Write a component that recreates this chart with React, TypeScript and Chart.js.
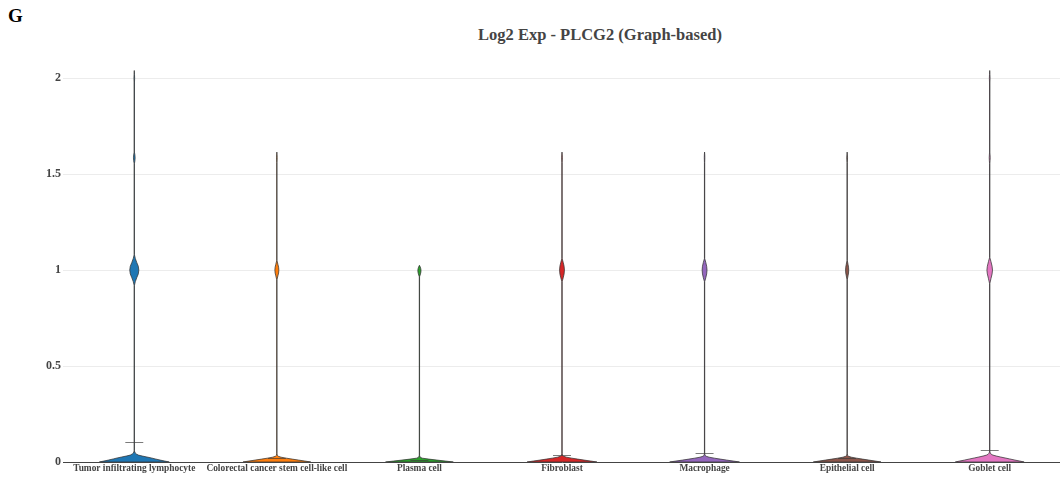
import React, { useEffect, useRef } from "react";
import { Chart, registerables } from "chart.js";

Chart.register(...registerables);

const categories = [
  "Tumor infiltrating lymphocyte",
  "Colorectal cancer stem cell-like cell",
  "Plasma cell",
  "Fibroblast",
  "Macrophage",
  "Epithelial cell",
  "Goblet cell",
];

const colors = ["#1f77b4", "#ff7f0e", "#2ca02c", "#d62728", "#9467bd", "#8c564b", "#e377c2"];

const yTicks = [0, 0.5, 1, 1.5, 2];

// density profiles: [log2 expression, relative density]
const tilProfile: [number, number][] = [
  [0, 1], [0.005, 0.87], [0.01, 0.74], [0.016, 0.6], [0.021, 0.49], [0.026, 0.36], [0.031, 0.23],
  [0.036, 0.115], [0.042, 0.057], [0.047, 0.028], [0.052, 0.012], [0.06, 0.004],
  [0.92, 0.004], [0.94, 0.03], [0.96, 0.07], [0.98, 0.115], [1.0, 0.13], [1.02, 0.115], [1.04, 0.07],
  [1.06, 0.03], [1.08, 0.004], [1.555, 0.004], [1.57, 0.018], [1.585, 0.024], [1.6, 0.018], [1.615, 0.004],
  [1.98, 0.006], [2.0, 0.01], [2.02, 0.006], [2.04, 0],
];
const crcProfile: [number, number][] = [
  [0, 0.97], [0.005, 0.8], [0.01, 0.62], [0.015, 0.44], [0.02, 0.27], [0.025, 0.12], [0.03, 0.04],
  [0.035, 0.012], [0.045, 0.004],
  [0.95, 0.004], [0.97, 0.03], [0.985, 0.05], [1.0, 0.057], [1.015, 0.05], [1.03, 0.03], [1.05, 0.004],
  [1.56, 0.004], [1.585, 0.01], [1.6, 0.006], [1.615, 0],
];
const plasmaProfile: [number, number][] = [
  [0, 0.97], [0.005, 0.74], [0.01, 0.5], [0.015, 0.27], [0.02, 0.08], [0.025, 0.02], [0.035, 0.004],
  [0.965, 0.004], [0.98, 0.03], [0.99, 0.042], [1.0, 0.045], [1.01, 0.035], [1.02, 0.015], [1.025, 0],
];
const fibroProfile: [number, number][] = [
  [0, 1], [0.005, 0.82], [0.01, 0.63], [0.015, 0.45], [0.02, 0.28], [0.025, 0.13], [0.03, 0.045],
  [0.035, 0.012], [0.045, 0.004],
  [0.94, 0.004], [0.96, 0.035], [0.98, 0.06], [1.0, 0.07], [1.02, 0.06], [1.04, 0.035], [1.06, 0.004],
  [1.56, 0.004], [1.585, 0.01], [1.6, 0.006], [1.615, 0],
];
const macroProfile: [number, number][] = [
  [0, 1], [0.005, 0.82], [0.01, 0.63], [0.015, 0.45], [0.02, 0.28], [0.025, 0.13], [0.03, 0.045],
  [0.035, 0.012], [0.045, 0.004],
  [0.94, 0.004], [0.96, 0.035], [0.98, 0.06], [1.0, 0.07], [1.02, 0.06], [1.04, 0.035], [1.06, 0.004],
  [1.56, 0.004], [1.585, 0.008], [1.6, 0.006], [1.615, 0],
];
const epiProfile: [number, number][] = [
  [0, 0.97], [0.005, 0.8], [0.01, 0.62], [0.015, 0.44], [0.02, 0.27], [0.025, 0.12], [0.03, 0.04],
  [0.035, 0.012], [0.045, 0.004],
  [0.95, 0.004], [0.97, 0.025], [0.985, 0.04], [1.0, 0.045], [1.015, 0.04], [1.03, 0.025], [1.05, 0.004],
  [1.56, 0.004], [1.585, 0.012], [1.6, 0.006], [1.615, 0],
];
const gobletProfile: [number, number][] = [
  [0, 0.985], [0.005, 0.86], [0.01, 0.72], [0.016, 0.57], [0.021, 0.44], [0.026, 0.31], [0.031, 0.19],
  [0.036, 0.09], [0.041, 0.04], [0.046, 0.018], [0.052, 0.008], [0.06, 0.004],
  [0.93, 0.004], [0.955, 0.035], [0.98, 0.068], [1.0, 0.08], [1.02, 0.068], [1.045, 0.035], [1.065, 0.004],
  [1.555, 0.004], [1.57, 0.01], [1.585, 0.014], [1.6, 0.01], [1.615, 0.004],
  [1.98, 0.006], [2.0, 0.01], [2.02, 0.006], [2.04, 0],
];

const profiles = [tilProfile, crcProfile, plasmaProfile, fibroProfile, macroProfile, epiProfile, gobletProfile];

const means = [0.104, 0.02, 0.012, 0.035, 0.045, 0.022, 0.065];

const HALF_WIDTH = 0.245; // category units at density 1
const MEAN_HALF = 0.063;

const violinPlugin = {
  id: "violins",
  beforeDatasetsDraw(chart: any) {
    const { ctx, chartArea, scales } = chart;
    const x = scales.x;
    const y = scales.y;
    const unit = x.getPixelForValue(1) - x.getPixelForValue(0);
    const half = unit * HALF_WIDTH;
    ctx.save();
    ctx.beginPath();
    ctx.rect(chartArea.left, chartArea.top - 20, chartArea.right - chartArea.left, chartArea.bottom - chartArea.top + 20);
    ctx.clip();
    profiles.forEach((prof, i) => {
      const cx = x.getPixelForValue(i);
      ctx.beginPath();
      prof.forEach(([v, d], k) => {
        const px = cx + d * half;
        const py = y.getPixelForValue(v);
        if (k === 0) ctx.moveTo(px, py);
        else ctx.lineTo(px, py);
      });
      for (let k = prof.length - 1; k >= 0; k--) {
        const [v, d] = prof[k];
        ctx.lineTo(cx - d * half, y.getPixelForValue(v));
      }
      ctx.closePath();
      ctx.fillStyle = colors[i];
      ctx.fill();
      ctx.lineWidth = 0.75;
      ctx.strokeStyle = "#333";
      ctx.lineJoin = "round";
      ctx.stroke();

      const my = Math.round(y.getPixelForValue(means[i])) + 0.5;
      ctx.beginPath();
      ctx.moveTo(cx - MEAN_HALF * unit, my);
      ctx.lineTo(cx + MEAN_HALF * unit, my);
      ctx.lineWidth = 0.8;
      ctx.strokeStyle = "rgba(60,60,60,0.85)";
      ctx.stroke();
    });
    ctx.restore();
  },
};

export default function App() {
  const ref = useRef<HTMLCanvasElement | null>(null);

  useEffect(() => {
    if (!ref.current) return;
    const chart = new Chart(ref.current, {
      type: "line",
      data: {
        labels: categories,
        datasets: [{ label: "violin", data: [], pointRadius: 0, showLine: false }],
      },
      options: {
        animation: false,
        responsive: false,
        devicePixelRatio: 1,
        layout: { padding: { top: 59, left: 0, right: 0, bottom: 0 } },
        plugins: { legend: { display: false }, tooltip: { enabled: false }, title: { display: false } },
        scales: {
          x: {
            type: "category",
            offset: true,
            grid: { drawOnChartArea: false, drawTicks: false },
            border: { display: true, color: "#444", width: 1 },
            ticks: {
              color: "#444",
              font: { family: "'Liberation Serif', 'Times New Roman', serif", size: 9.4, weight: "bold" },
              padding: 1,
              maxRotation: 0,
              autoSkip: false,
            },
            afterFit: (s: any) => {
              s.height = 22;
            },
          },
          y: {
            type: "linear",
            min: 0,
            max: 2.1,
            grid: { color: "#ececec", drawTicks: false, lineWidth: 1 },
            border: { display: false },
            afterBuildTicks: (s: any) => {
              s.ticks = yTicks.map((v) => ({ value: v }));
            },
            ticks: {
              color: "#444",
              font: { family: "'Liberation Serif', 'Times New Roman', serif", size: 12, weight: "bold" },
              padding: 2,
              includeBounds: false,
              callback: (v: any) => String(v),
            },
            afterFit: (s: any) => {
              s.width = 63;
            },
          },
        },
      },
      plugins: [violinPlugin],
    });
    return () => chart.destroy();
  }, []);

  return (
    <div
      style={{
        position: "fixed",
        left: 0,
        top: 0,
        width: 1060,
        height: 484,
        overflow: "hidden",
        background: "#fff",
      }}
    >
      <div
        style={{
          position: "absolute",
          left: 8,
          top: 4,
          fontFamily: "'Liberation Serif', 'Times New Roman', serif",
          fontWeight: "bold",
          fontSize: 19,
          color: "#000",
          lineHeight: "24px",
        }}
      >
        G
      </div>
      <div
        style={{
          position: "absolute",
          left: 400,
          width: 400,
          top: 25,
          textAlign: "center",
          fontFamily: "'Liberation Serif', 'Times New Roman', serif",
          fontWeight: "bold",
          fontSize: 16.5,
          color: "#444",
          lineHeight: "20px",
        }}
      >
        Log2 Exp - PLCG2 (Graph-based)
      </div>
      <canvas ref={ref} width={1061} height={484} style={{ position: "absolute", left: 0, top: 0, width: 1061, height: 484 }} />
    </div>
  );
}
